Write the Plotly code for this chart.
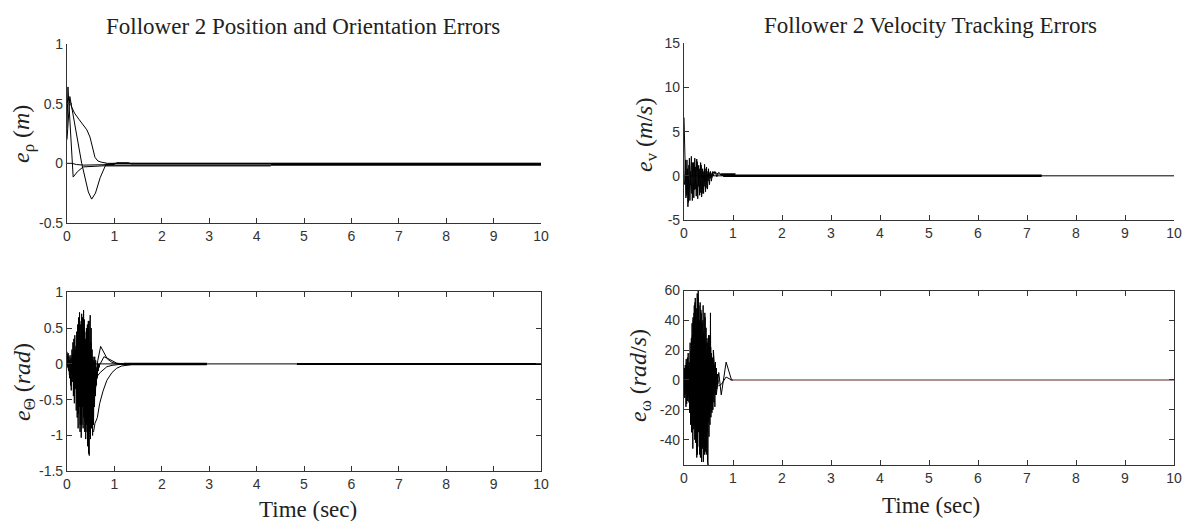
import plotly.graph_objects as go

W, H = 1182, 521

# ---------------- data ----------------
# Top-left: e_rho (m)
rho_t1 = [0, 0.02, 0.13, 0.22, 0.34, 0.5, 0.8, 1.0, 4.3]
rho_y1 = [0.30, 0.64, -0.115, -0.07, -0.03, -0.025, -0.02, -0.02, -0.02]
rho_t2 = [0, 0.06, 0.31, 0.45, 0.52, 0.6, 0.7, 0.82, 1.0, 10]
rho_y2 = [0.2, 0.56, 0.0, -0.24, -0.30, -0.25, -0.12, -0.01, 0.0, 0.0]
rho_t3 = [0, 0.03, 0.1, 0.16, 0.25, 0.345, 0.42, 0.485, 0.54, 0.59, 0.65, 0.72, 0.85, 1.0, 10]
rho_y3 = [0.5, 0.55, 0.47, 0.42, 0.37, 0.32, 0.28, 0.22, 0.13, 0.05, 0.02, 0.01, 0.0, 0.0, 0.0]
rho_t4 = [0, 0.1, 0.2, 0.35, 1.0, 1.05, 1.3, 1.35, 10]
rho_y4 = [0, 0, -0.01, -0.015, -0.01, 0.005, 0.005, -0.005, -0.005]

# Bottom-left: e_theta (rad); fast samples every 0.01 s
th_fast1 = [0.17, 0.12, 0.05, -0.08, 0.10, -0.15, 0.05, -0.10, -0.25, -0.37,
            -0.05, 0.12, -0.10, 0.15, -0.20, 0.10, -0.30, 0.20, -0.15, 0.25,
            -0.40, 0.35, -0.55, 0.50, -0.70, 0.40, -0.60, 0.60, -0.85, 0.55,
            -1.03, 0.70, -0.60, 0.65, -0.90, 0.75, -0.50, 0.45, -0.80, 0.30,
            -0.95, 0.50, -0.70, 0.55, -1.10, 0.60, -1.20, -1.28, 0.40, 0.68,
            -0.60, 0.50, -0.90, 0.20, -1.00, 0.10, -0.85, -0.20, -0.60, -0.15,
            -0.45, -0.10, -0.30, -0.05, -0.20, 0.0, -0.10, 0.0, -0.05, 0.0, 0.0]
th_fast2 = [0.10, -0.05, 0.15, -0.10, 0.05, -0.20, 0.12, -0.30, 0.08, -0.15,
            0.20, -0.25, 0.30, -0.45, 0.35, -0.55, 0.40, -0.35, 0.20, -0.65,
            0.45, -0.75, 0.55, -0.90, 0.65, -0.50, 0.72, -0.95, 0.40, -0.70,
            0.60, -0.85, 0.50, -0.60, 0.30, -0.75, 0.62, -0.95, 0.35, -1.05,
            0.45, -0.85, 0.20, -1.15, 0.50, -1.25, 0.60, -0.95, 0.25, -1.05,
            0.30, -0.80, 0.10, -0.90, -0.10, -0.70, 0.05, -0.40, 0.10, -0.25,
            0.05, -0.10]
th_t2 = [0.55, 0.6, 0.65, 0.71, 0.78, 0.85, 0.95, 1.05, 1.15, 1.3, 2.95]
th_y2 = [-0.6, -0.3, 0.05, 0.245, 0.16, 0.07, 0.02, 0.0, -0.01, 0.0, 0.0]
th_t3 = [0.56, 0.59, 0.64, 0.69, 0.76, 0.84, 0.95, 1.05, 1.15, 1.26, 1.4, 2.95]
th_y3 = [-0.95, -0.83, -0.75, -0.55, -0.38, -0.23, -0.12, -0.06, -0.03, -0.02, -0.005, 0]
th_t4 = [0.6, 0.63, 0.7, 0.78, 0.84, 0.95, 1.05, 1.2, 2.95]
th_y4 = [-0.35, -0.18, -0.12, -0.07, -0.04, -0.02, -0.01, 0, 0]
th_t5 = [0.7, 0.78, 0.85, 0.95, 1.05, 1.2]
th_y5 = [0.0, 0.10, 0.08, 0.04, 0.01, 0]

# Top-right: e_v (m/s); fast samples every 0.02 s
v_fast1 = [6.6, 1.5, -2.5, 1.8, -3.5, 1.2, -2.8, 0.5, -2.0, 1.5,
           -2.5, 2.0, -1.5, 1.9, -2.6, 1.2, -2.2, 1.5, -2.4, 0.8,
           -2.0, 1.3, -1.8, 1.0, -1.5, 0.8, -1.0, 0.5, -0.6, 0.4,
           0.0, 0.4, 0.2, 0.3, 0.2, 0.2, 0.2, 0.15, 0.1, 0.05, 0.0]
v_fast2 = [-1.0, 1.8, -2.2, 0.8, -3.0, 2.0, -1.0, 2.2, -2.8, 1.5,
           -1.6, 1.0, -2.3, 1.6, -1.2, 0.8, -1.9, 1.2, -2.0, 0.5,
           -1.2, 0.8, -1.4, 0.5, -0.6, 0.4, -0.3, 0.3, -0.2, 0.5,
           0.3, 0.5, 0.3, -0.1, 0.2, 0.4, 0.3, 0.1]

# Bottom-right: e_omega (rad/s); fast samples every 0.01 s
w_fast1 = [0, 8, -10, 5, -18, 12, -8, 15, -12, 10,
           -15, 8, -20, 18, -25, 28, -35, 30, -46, 40,
           -30, 50, -40, 55, -38, 48, -52, 58, -45, 61,
           -30, 40, -50, 52, -35, 45, -55, 38, -45, 50,
           -40, 30, -50, 42, -48, 35, -45, 28, -55, -57,
           30, -38, 22, -30, 45, -25, 18, -22, 15, -20,
           20, -15, 10, -18, 12, -10, 8, -6, 4, -3, 0]
w_fast2 = [5, -12, 10, -6, 14, -16, 6, -14, 18, -10,
           12, -22, 25, -30, 20, -35, 38, -25, 42, -33,
           45, -28, 52, -42, 35, -48, 40, -50, 55, -35,
           50, -44, 38, -52, 47, -38, 30, -46, 40, -55,
           32, -42, 45, -38, 25, -50, 20, -35, 25, -28,
           18, -25, 30, -20, 22, -15, 12, -20, 8, -10,
           6, -5, 3, -8, 5]
w_t3 = [0.6, 0.66, 0.71, 0.76, 0.86, 0.97, 1.0]
w_y3 = [20, -10, 5, -10, 12, 0, 0]
w_t4 = [0.7, 0.76, 0.86, 0.97]
w_y4 = [-4, -3, 2, 0]

x_ticks = [0, 1, 2, 3, 4, 5, 6, 7, 8, 9, 10]
rho_ticks = [-0.5, 0, 0.5, 1]
th_ticks = [-1.5, -1, -0.5, 0, 0.5, 1]
v_ticks = [-5, 0, 5, 10, 15]
w_ticks = [-40, -20, 0, 20, 40, 60]

# ---------------- figure ----------------
fig = go.Figure()


def add(t, y, ax, width=1.0, color="black"):
    fig.add_trace(go.Scatter(x=t, y=y, mode="lines",
                             line=dict(color=color, width=width),
                             xaxis="x" + ax, yaxis="y" + ax,
                             showlegend=False, hoverinfo="skip"))


def fast_t(vals, dt, t0=0.0):
    return [round(t0 + i * dt, 4) for i in range(len(vals))]


# top-left
add([0.8, 4.3], [-0.015, -0.015], "", 3, "#888")
add([4.3, 10], [-0.01, -0.01], "", 2.2)
add(rho_t4, rho_y4, "")
add(rho_t1, rho_y1, "")
add(rho_t2, rho_y2, "")
add(rho_t3, rho_y3, "")

# bottom-left
add([0, 10], [0, 0], "2", 1)
add([1.2, 2.95], [0, 0], "2", 2.5)
add([4.85, 10], [0, 0], "2", 2)
add(fast_t(th_fast1, 0.01), th_fast1, "2")
add(fast_t(th_fast2, 0.01, 0.005), th_fast2, "2")
add(th_t2, th_y2, "2")
add(th_t3, th_y3, "2")
add(th_t4, th_y4, "2")
add(th_t5, th_y5, "2")

# top-right
add([0, 10], [0, 0], "3", 1)
add([0.8, 7.3], [0, 0], "3", 2.5)
add([0.75, 1.05], [0.15, 0.15], "3", 2.5)
add(fast_t(v_fast1, 0.02), v_fast1, "3")
add(fast_t(v_fast2, 0.02, 0.01), v_fast2, "3")

# bottom-right
add(fast_t(w_fast1, 0.01), w_fast1, "4")
add(fast_t(w_fast2, 0.01, 0.005), w_fast2, "4")
add(w_t3, w_y3, "4")
add(w_t4, w_y4, "4")
add([0.95, 10], [0, 0], "4", 1.2, "#5a2520")

# ---------------- layout ----------------
def px_x(p0, p1):
    return [p0 / W, p1 / W]


def px_y(top, bottom):
    return [1 - bottom / H, 1 - top / H]


tickfont = dict(family="Liberation Sans, Arial, sans-serif", size=14, color="#333")
common = dict(showgrid=False, zeroline=False, showline=True, linecolor="#333",
              linewidth=1.2, ticks="inside", ticklen=5, tickcolor="#333",
              tickwidth=1, tickfont=tickfont, fixedrange=True, automargin=False)

def xax(dom, anchor, mirror):
    d = dict(common)
    d.update(domain=dom, anchor=anchor, range=[0, 10], tickvals=x_ticks,
             ticktext=[str(v) for v in x_ticks], mirror=mirror)
    return d

def yax(dom, anchor, rng, tv, mirror):
    d = dict(common)
    d.update(domain=dom, anchor=anchor, range=rng, tickvals=tv,
             ticktext=[("%g" % v) for v in tv], mirror=mirror)
    return d

L = px_x(67, 541)
R = px_x(684, 1174)
fig.update_layout(
    width=W, height=H, margin=dict(l=0, r=0, t=0, b=0, pad=0, autoexpand=False),
    paper_bgcolor="white", plot_bgcolor="white", showlegend=False,
    xaxis=xax(L, "y", False),
    yaxis=yax(px_y(44, 223), "x", [-0.5, 1], rho_ticks, False),
    xaxis2=xax(L, "y2", "ticks"),
    yaxis2=yax(px_y(292.3, 471.3), "x2", [-1.5, 1], th_ticks, "ticks"),
    xaxis3=xax(R, "y3", False),
    yaxis3=yax(px_y(43.3, 220), "x3", [-5, 15], v_ticks, False),
    xaxis4=xax(R, "y4", "ticks"),
    yaxis4=yax(px_y(290.5, 465), "x4", [-57, 60], w_ticks, "ticks"),
)

serif = "Liberation Serif, Times New Roman, serif"

def ann(text, px, py, size, angle=0):
    fig.add_annotation(text=text, x=px / W, y=1 - py / H, xref="paper", yref="paper",
                       showarrow=False, textangle=angle, xanchor="center", yanchor="middle",
                       font=dict(family=serif, size=size, color="#222"))

ann("Follower 2 Position and Orientation Errors", 303, 27, 23)
ann("Follower 2 Velocity Tracking Errors", 930, 25, 23)
ann("Time (sec)", 308, 509, 23)
ann("Time (sec)", 931, 505, 23)
ann("<i>e</i><sub>ρ</sub> (<i>m</i>)", 23, 134, 24, -90)
ann("<i>e</i><sub>Θ</sub> (<i>rad</i>)", 24, 382, 24, -90)
ann("<i>e</i><sub>v</sub> (<i>m</i>/<i>s</i>)", 646, 135, 24, -90)
ann("<i>e</i><sub>ω</sub> (<i>rad</i>/<i>s</i>)", 640, 376, 24, -90)

fig.write_html("out.html", config={"displayModeBar": False},
               post_script="document.body.style.margin='0px';document.body.style.overflow='hidden';")
